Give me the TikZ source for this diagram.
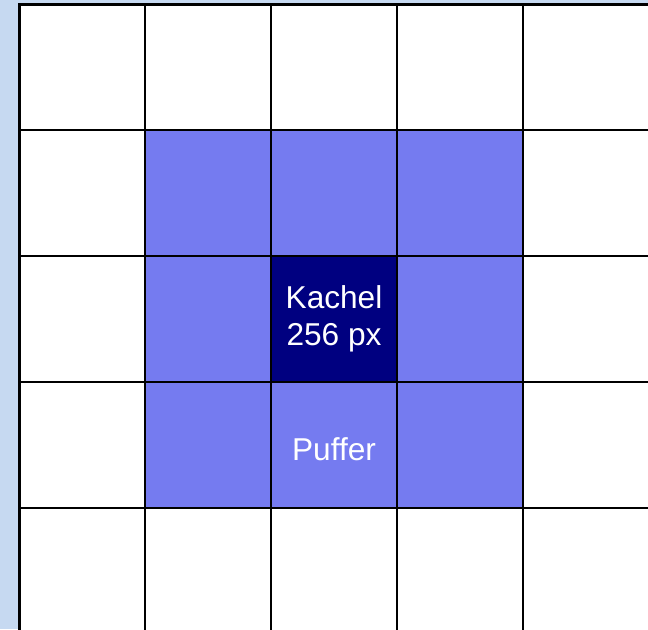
\documentclass[tikz,border=0pt]{standalone}
\usepackage{fontspec}
\setmainfont{Liberation Sans}
\usetikzlibrary{positioning}
\definecolor{PageBlue}{RGB}{198,217,241}
\definecolor{BufBlue}{RGB}{117,123,240}
\definecolor{TileNavy}{RGB}{0,0,128}
\tikzset{
  cell/.style={draw=black,fill=white,line width=1.1pt,minimum size=2.52cm,inner sep=0pt,outer sep=0pt},
  buf/.style={cell,fill=BufBlue},
  tile/.style={cell,fill=TileNavy,text=white,align=center,font=\fontsize{18}{21}\selectfont},
  lbl/.style={text=white,font=\fontsize{18}{21}\selectfont},
}
\begin{document}
\begin{tikzpicture}[x=0.02cm,y=-0.02cm]
\useasboundingbox[fill=PageBlue] (0,0) rectangle (648,629);
\clip (0,0) rectangle (648,629);
% 5x5 raster, first cell at (19,4)
\foreach \i in {0,...,4}{\foreach \j in {0,...,4}{\node[cell] (c\i\j) at (82+126*\i,67+126*\j) {};}}
\foreach \i in {1,2,3}{\foreach \j in {1,2,3}{\node[buf] (b\i\j) at (c\i\j) {};}}
\node[tile] (kachel) at (c22) {Kachel\\256 px};
\node[lbl] (puffer) at ([yshift=-0.08cm]b23.center) {Puffer};
\draw[line width=1.7pt] (c04.south west) -- (c00.north west) -- (c40.north east);
\end{tikzpicture}
\end{document}
